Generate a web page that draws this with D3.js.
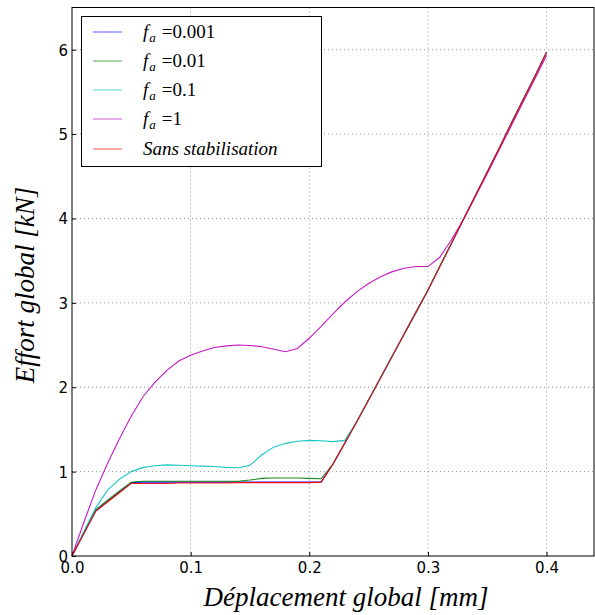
<!DOCTYPE html>
<html><head><meta charset="utf-8">
<script src="https://cdn.jsdelivr.net/npm/d3@7"></script>
<style>body{margin:0;background:#fff}svg{display:block}</style>
</head><body>
<svg id="chart" width="595" height="615"></svg>
<script>
const xValues = [0,0.01,0.02,0.03,0.04,0.05,0.06,0.07,0.08,0.09,0.10,0.11,0.12,0.13,0.14,0.15,0.16,0.17,0.18,0.19,0.20,0.21,0.22,0.23,0.24,0.25,0.26,0.27,0.28,0.29,0.30,0.31,0.32,0.33,0.34,0.35,0.36,0.37,0.38,0.39,0.40];
const fa0001 = [0,0.27,0.535,0.65,0.76,0.87,0.875,0.875,0.875,0.875,0.875,0.875,0.875,0.875,0.875,0.875,0.875,0.875,0.875,0.875,0.875,0.875,1.09,1.34,1.59,1.85,2.11,2.37,2.63,2.89,3.15,3.43,3.71,3.99,4.27,4.55,4.83,5.12,5.40,5.68,5.97];
const fa001 = [0,0.275,0.55,0.66,0.77,0.875,0.885,0.885,0.885,0.885,0.885,0.885,0.885,0.885,0.885,0.90,0.92,0.925,0.925,0.925,0.92,0.915,1.09,1.34,1.59,1.85,2.11,2.37,2.63,2.89,3.15,3.43,3.71,3.99,4.27,4.55,4.83,5.12,5.40,5.68,5.97];
const fa01 = [0,0.29,0.57,0.78,0.91,1.0,1.05,1.07,1.08,1.075,1.07,1.065,1.06,1.05,1.045,1.075,1.2,1.29,1.335,1.36,1.37,1.365,1.355,1.37,1.59,1.85,2.11,2.37,2.63,2.89,3.15,3.43,3.71,3.99,4.27,4.55,4.83,5.12,5.40,5.68,5.97];
const fa1 = [0,0.40,0.78,1.10,1.39,1.66,1.89,2.06,2.2,2.31,2.38,2.43,2.47,2.49,2.50,2.495,2.48,2.45,2.42,2.46,2.58,2.72,2.87,3.01,3.13,3.23,3.31,3.37,3.41,3.43,3.43,3.54,3.75,3.99,4.26,4.53,4.81,5.09,5.37,5.65,5.93];
const sansStab = [0,0.265,0.53,0.64,0.75,0.86,0.86,0.86,0.86,0.865,0.865,0.865,0.865,0.865,0.87,0.87,0.87,0.87,0.87,0.87,0.87,0.875,1.09,1.34,1.59,1.85,2.11,2.37,2.63,2.89,3.15,3.43,3.71,3.99,4.27,4.55,4.83,5.12,5.40,5.68,5.97];
const seriesLabels = ["0.001","0.01","0.1","1"];
const lastLabel = "Sans stabilisation";
const xTicks = [0,0.1,0.2,0.3,0.4];
const yTicks = [0,1,2,3,4,5,6];
const xLabel = "Déplacement global [mm]";
const yLabel = "Effort global [kN]";

const series = [
  {vals: fa0001, color: "#0000ff", label: seriesLabels[0]},
  {vals: fa001, color: "#008000", label: seriesLabels[1]},
  {vals: fa01, color: "#00bfbf", label: seriesLabels[2]},
  {vals: fa1, color: "#bf00bf", label: seriesLabels[3]},
  {vals: sansStab, color: "#ff0000", label: null}
];

const L = 72, T = 7.5, R = 594, B = 556;
const svg = d3.select("#chart");
const x = d3.scaleLinear().domain([0, 0.44]).range([L, R]);
const y = d3.scaleLinear().domain([0, 6.5]).range([B, T]);

// grid
const g = svg.append("g");
g.selectAll(".gx").data(xTicks.slice(1)).enter().append("line")
  .attr("x1", d => x(d)).attr("x2", d => x(d)).attr("y1", T).attr("y2", B)
  .attr("stroke", "#000").attr("stroke-opacity", 0.55).attr("stroke-width", 0.8).attr("stroke-dasharray", "1,3");
g.selectAll(".gy").data(yTicks.slice(1)).enter().append("line")
  .attr("x1", L).attr("x2", R).attr("y1", d => y(d)).attr("y2", d => y(d))
  .attr("stroke", "#000").attr("stroke-opacity", 0.55).attr("stroke-width", 0.8).attr("stroke-dasharray", "1,3");

// axes
const xAxis = d3.axisBottom(x).tickValues(xTicks).tickFormat(d3.format(".1f")).tickSizeInner(-4).tickSizeOuter(0).tickPadding(6);
const yAxis = d3.axisLeft(y).tickValues(yTicks).tickFormat(d3.format("d")).tickSizeInner(-4).tickSizeOuter(0).tickPadding(4);
const ax = svg.append("g").attr("transform", `translate(0,${B})`).call(xAxis);
const ay = svg.append("g").attr("transform", `translate(${L},0)`).call(yAxis);
[ax, ay].forEach(a => {
  a.select(".domain").remove();
  a.selectAll("text").attr("font-family", "DejaVu Sans").attr("font-size", 15).attr("fill", "#000");
  a.selectAll("line").attr("stroke", "#000");
});
ay.selectAll("text").attr("dy", "0.36em");

// lines
const line = d3.line().x((d, i) => x(xValues[i])).y(d => y(d));
svg.append("g").selectAll("path").data(series).enter().append("path")
  .attr("d", d => line(d.vals)).attr("fill", "none")
  .attr("stroke", d => d.color).attr("stroke-width", 1.1).attr("stroke-opacity", 0.9);

// frame
svg.append("rect").attr("x", L).attr("y", T).attr("width", R - L).attr("height", B - T)
  .attr("fill", "none").attr("stroke", "#000").attr("stroke-width", 1);

// legend
const lg = svg.append("g");
lg.append("rect").attr("x", 81.5).attr("y", 16.5).attr("width", 240).attr("height", 150)
  .attr("fill", "#fff").attr("stroke", "#000").attr("stroke-width", 1);
const rowY = [32, 61, 90, 119, 149];
series.forEach((s, i) => {
  lg.append("line").attr("x1", 93).attr("x2", 122).attr("y1", rowY[i]).attr("y2", rowY[i])
    .attr("stroke", s.color).attr("stroke-width", 1.1).attr("stroke-opacity", 0.6);
  const t = lg.append("text").attr("x", 143).attr("y", rowY[i] + 6)
    .attr("font-family", "Liberation Serif").attr("font-size", 19).attr("fill", "#000");
  if (s.label !== null) {
    t.append("tspan").attr("font-style", "italic").text("f");
    t.append("tspan").attr("font-style", "italic").attr("font-size", 13).attr("dy", 4).attr("dx", 1).text("a");
    t.append("tspan").attr("dy", -4).attr("dx", 6).text("=" + s.label);
  } else {
    t.attr("font-style", "italic").text(lastLabel);
  }
});

// axis labels
svg.append("text").attr("x", 346).attr("y", 606).attr("text-anchor", "middle")
  .attr("font-family", "Liberation Serif").attr("font-style", "italic").attr("font-size", 27).attr("fill", "#000")
  .text(xLabel);
svg.append("text").attr("transform", "translate(34,285) rotate(-90)").attr("text-anchor", "middle")
  .attr("font-family", "Liberation Serif").attr("font-style", "italic").attr("font-size", 27).attr("fill", "#000")
  .text(yLabel);
</script>
</body></html>
